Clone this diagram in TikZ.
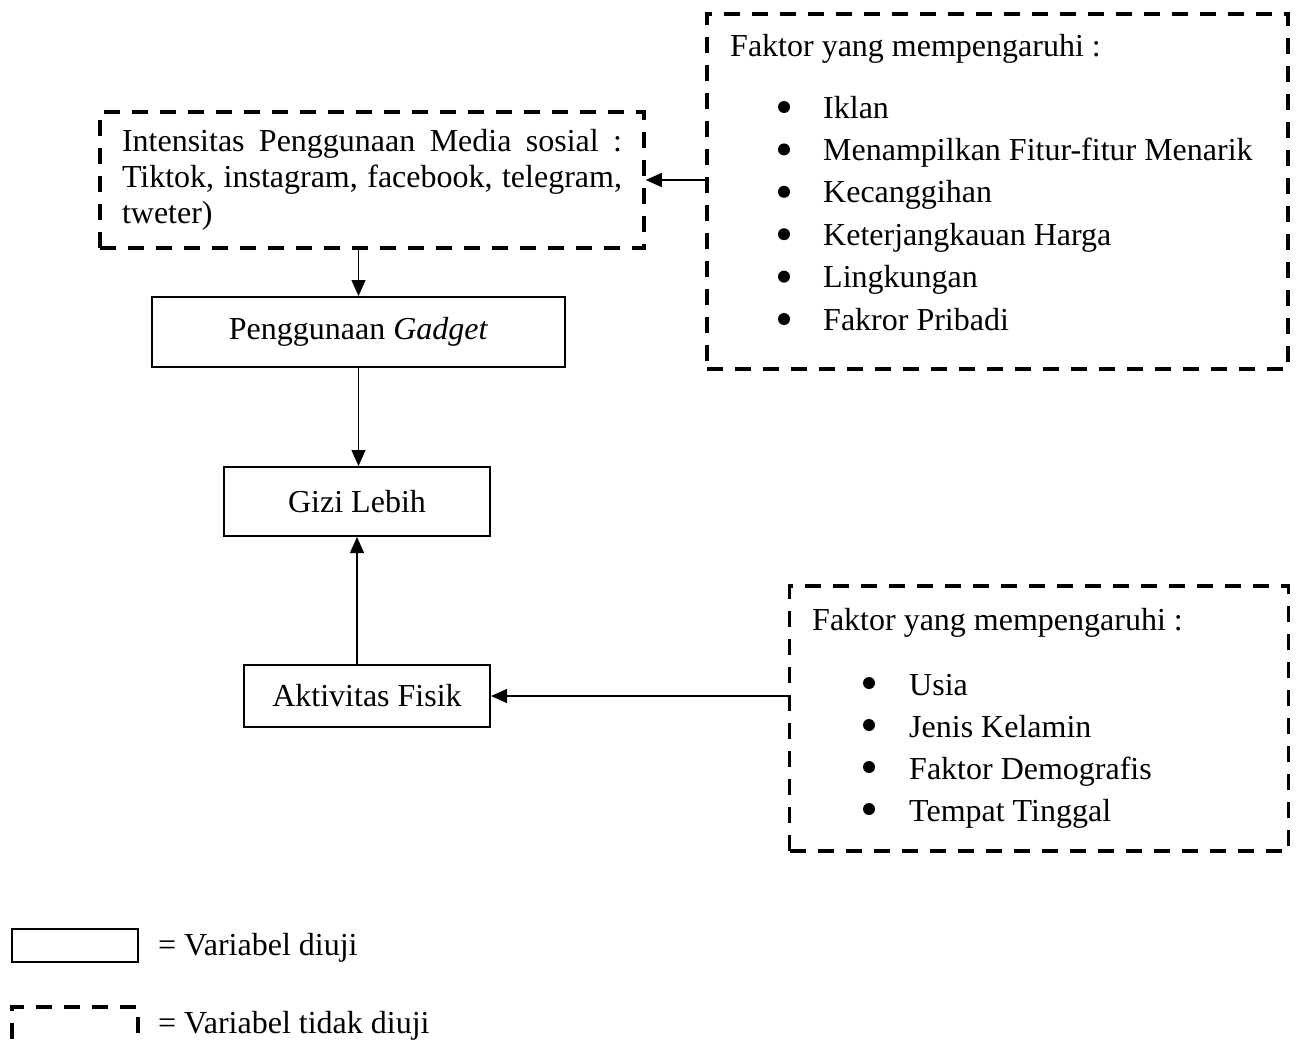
\documentclass[tikz,border=0pt]{standalone}
\usepackage{fontspec}
\setmainfont{Liberation Serif}
\usetikzlibrary{arrows.meta,calc}
\begin{document}
\begin{tikzpicture}[x=1pt,y=-1pt,
  every node/.style={font=\fontsize{32}{36}\selectfont},
  solidbox/.style={draw, line width=2pt, inner sep=0pt},
  dashbox/.style={draw, line width=3.5pt, dash pattern=on 16pt off 12pt, inner sep=0pt},
  arr/.style={line width=1.3pt, -{Triangle[length=16pt,width=14pt]}},
  txt/.style={anchor=base west, inner sep=0pt},
  bul/.style={circle, fill=black, minimum size=12pt, inner sep=0pt}]
\useasboundingbox (0,0) rectangle (1301,1039);

% main boxes
\node[dashbox, minimum width=544pt, minimum height=136pt, text width=500pt,
      align=justify, inner xsep=22pt] (int) at (372,180)
  {Intensitas Penggunaan Media sosial~: Tiktok, instagram, facebook, telegram, tweter)};
\node[solidbox, minimum width=413pt, minimum height=70pt] (peng) at (358.5,332) {Penggunaan \textit{Gadget}};
\node[solidbox, minimum width=266pt, minimum height=69pt] (gizi) at (357,501.5) {Gizi Lebih};
\node[solidbox, minimum width=246pt, minimum height=62pt] (akt) at (367,696) {Aktivitas Fisik};

% factor box 1
\node[dashbox, minimum width=581pt, minimum height=355pt] (f1) at (997.5,191.5) {};
\node[txt] (f1t) at (730,56) {Faktor yang mempengaruhi :};
\foreach \t [count=\i] in {Iklan, Menampilkan Fitur-fitur Menarik, Kecanggihan,
    Keterjangkauan Harga, Lingkungan, Fakror Pribadi} {
  \node[bul] (f1b\i) at (784,{107+42.4*(\i-1)}) {};
  \node[txt] (f1i\i) at (823,{118+42.4*(\i-1)}) {\t};
}

% factor box 2
\node[dashbox, minimum width=499pt, minimum height=265pt] (f2) at (1039,718.5) {};
\node[txt] (f2t) at (812,630) {Faktor yang mempengaruhi :};
\foreach \t [count=\i] in {Usia, Jenis Kelamin, Faktor Demografis, Tempat Tinggal} {
  \node[bul] (f2b\i) at (869,{683+42*(\i-1)}) {};
  \node[txt] (f2i\i) at (909,{695+42*(\i-1)}) {\t};
}

% connectors
\draw[arr] (peng.north |- int.south) -- (peng.north);
\draw[arr] (peng.south) -- (peng.south |- gizi.north);
\draw[arr] (akt.north -| gizi.south) -- (gizi.south);
\draw[arr] (f1.west |- int.east) -- (int.east);
\draw[arr] (f2.west |- akt.east) -- (akt.east);

% legend
\node[solidbox, minimum width=126pt, minimum height=33pt] (leg1) at (75,945.5) {};
\node[txt] (leg1t) at (158,955) {= Variabel diuji};
\node[dashbox, minimum width=126pt, minimum height=40pt] (leg2) at (75,1027) {};
\node[txt] (leg2t) at (158,1033) {= Variabel tidak diuji};
\end{tikzpicture}
\end{document}
